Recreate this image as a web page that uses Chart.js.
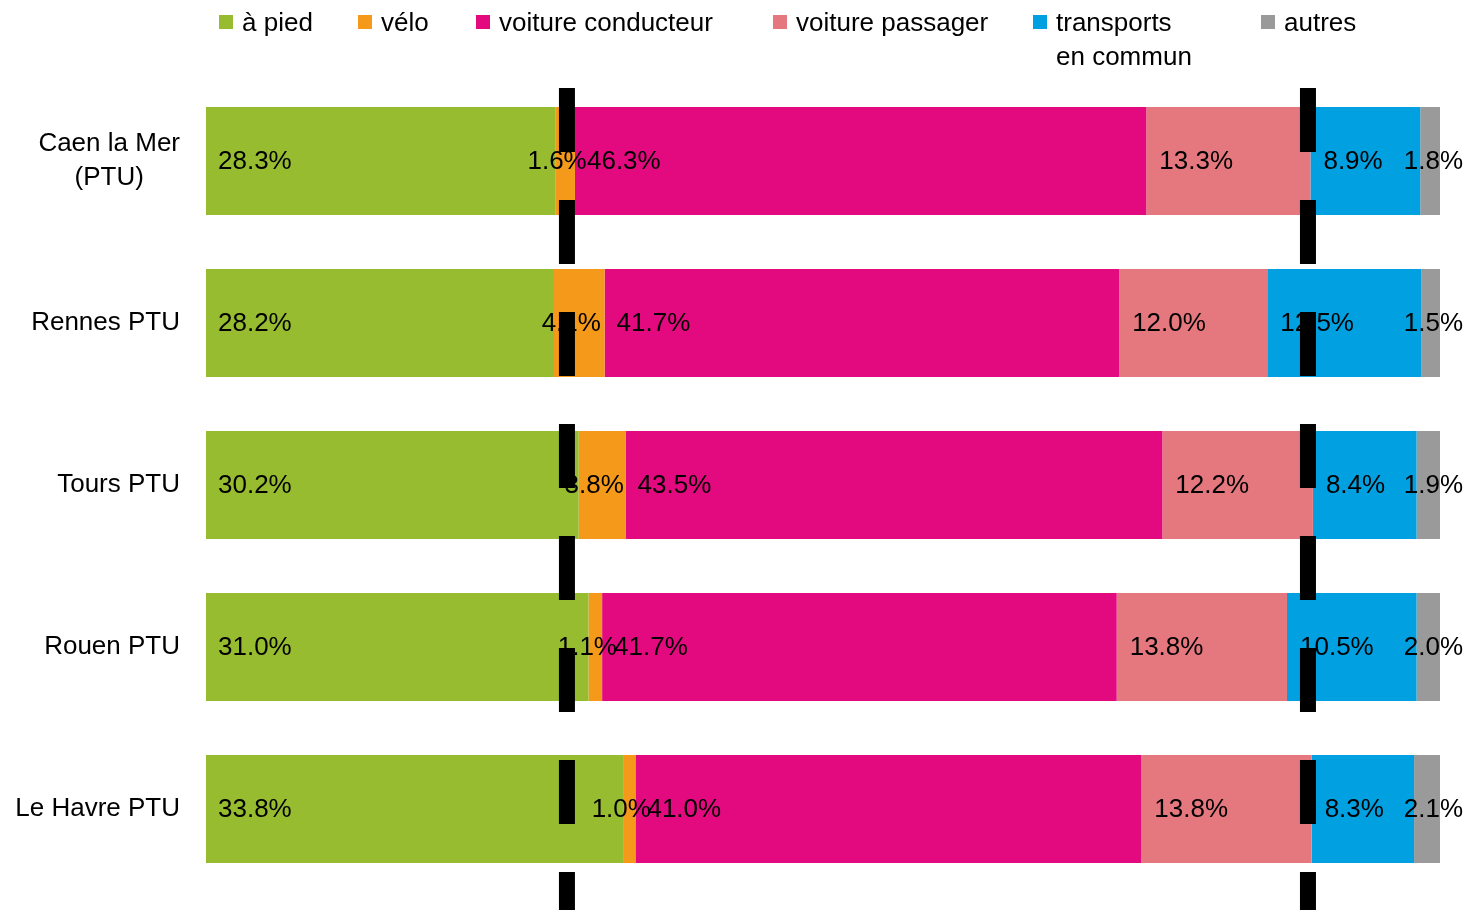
<!DOCTYPE html>
<html lang="fr">
<head>
<meta charset="utf-8">
<script src="https://cdn.jsdelivr.net/npm/chart.js@4.4.1/dist/chart.umd.min.js"></script>
<style>
    html, body { margin: 0; padding: 0; background: #fff; }
    #wrap { position: relative; width: 1470px; height: 910px; }
    #legend {
        position: absolute; top: 5px; left: 0;
        font-family: "Liberation Sans", Arial, sans-serif;
        font-size: 26px; line-height: 34px; color: #000;
    }
    .item { position: absolute; top: 0; display: flex; align-items: flex-start; white-space: nowrap; }
    .sw { width: 14px; height: 14px; margin-top: 10px; margin-right: 9px; flex: none; }
</style>
</head>
<body>
<div id="wrap">
    <canvas id="modes-chart" width="1470" height="910"></canvas>
    <div id="legend"></div>
</div>
<script>
// Données
const categories = [['Caen la Mer', '(PTU)'], 'Rennes PTU', 'Tours PTU', 'Rouen PTU', 'Le Havre PTU'];
const seriesNames = ['à pied', 'vélo', 'voiture conducteur', 'voiture passager', ['transports', 'en commun'], 'autres'];
const aPied = [28.3, 28.2, 30.2, 31.0, 33.8];
const velo = [1.6, 4.1, 3.8, 1.1, 1.0];
const voitureConducteur = [46.3, 41.7, 43.5, 41.7, 41.0];
const voiturePassager = [13.3, 12.0, 12.2, 13.8, 13.8];
const transportsCommun = [8.9, 12.5, 8.4, 10.5, 8.3];
const autres = [1.8, 1.5, 1.9, 2.0, 2.1];
const refLines = [29.25, 89.3];

const colors = ['#98bc2f', '#f4991a', '#e30a7f', '#e5787e', '#00a0e1', '#9a9a9a'];
const legendLeft = [219, 358, 476, 773, 1033, 1261];
const FONT = '"Liberation Sans", Arial, sans-serif';

// Étiquettes de l'axe des catégories (lignes centrées entre elles)
const categoryLabels = {
    id: 'categoryLabels',
    afterDraw(chart) {
        const ctx = chart.ctx;
        const y = chart.scales.y;
        const rightEdge = y.right - 26;
        const lineH = 34;
        ctx.save();
        ctx.font = '26px ' + FONT;
        ctx.fillStyle = '#000';
        ctx.textBaseline = 'middle';
        ctx.textAlign = 'center';
        chart.data.labels.forEach((lbl, i) => {
            const lines = Array.isArray(lbl) ? lbl : [lbl];
            const maxW = Math.max(...lines.map(l => ctx.measureText(l).width));
            const cx = rightEdge - maxW / 2;
            const cy = y.getPixelForValue(i);
            lines.forEach((l, k) => {
                ctx.fillText(l, cx, cy + (k - (lines.length - 1) / 2) * lineH);
            });
        });
        ctx.restore();
    }
};

// Étiquettes des segments
const segmentLabels = {
    id: 'segmentLabels',
    afterDatasetsDraw(chart) {
        const ctx = chart.ctx;
        ctx.save();
        ctx.font = '26px ' + FONT;
        ctx.fillStyle = '#000';
        ctx.textBaseline = 'middle';
        chart.data.datasets.forEach((ds, i) => {
            chart.getDatasetMeta(i).data.forEach((bar, j) => {
                const txt = ds.data[j].toFixed(1) + '%';
                const left = Math.min(bar.base, bar.x);
                const right = Math.max(bar.base, bar.x);
                let x;
                if (ds.labelAnchor === 'start') {
                    ctx.textAlign = 'left';
                    x = left + ds.labelOffset;
                } else if (ds.labelAnchor === 'center') {
                    ctx.textAlign = 'center';
                    x = (left + right) / 2 + ds.labelOffset;
                } else {
                    ctx.textAlign = 'right';
                    x = chart.chartArea.right + ds.labelOffset;
                }
                ctx.fillText(txt, x, bar.y + 1);
            });
        });
        ctx.restore();
    }
};

// Lignes verticales en tirets
const refDashes = {
    id: 'refDashes',
    afterDraw(chart) {
        const { ctx, chartArea, scales: { x } } = chart;
        ctx.save();
        ctx.strokeStyle = '#000';
        ctx.lineWidth = 16;
        ctx.setLineDash([64, 48]);
        refLines.forEach(v => {
            const px = x.getPixelForValue(v);
            ctx.beginPath();
            ctx.moveTo(px, chartArea.top + 8);
            ctx.lineTo(px, chart.height);
            ctx.stroke();
        });
        ctx.restore();
    }
};

const seriesData = [aPied, velo, voitureConducteur, voiturePassager, transportsCommun, autres];
const anchors = ['start', 'center', 'start', 'start', 'start', 'end'];
const offsets = [12, -8, 12, 13, 13, 23];

const chart = new Chart(document.getElementById('modes-chart'), {
    type: 'bar',
    data: {
        labels: categories,
        datasets: seriesData.map((d, i) => ({
            label: Array.isArray(seriesNames[i]) ? seriesNames[i].join(' ') : seriesNames[i],
            data: d,
            backgroundColor: colors[i],
            borderWidth: 0,
            categoryPercentage: 1,
            barPercentage: 0.667,
            labelAnchor: anchors[i],
            labelOffset: offsets[i]
        }))
    },
    options: {
        indexAxis: 'y',
        responsive: false,
        devicePixelRatio: 1,
        animation: false,
        layout: { padding: { top: 80, right: 30, bottom: 20, left: 0 } },
        plugins: {
            legend: { display: false },
            tooltip: { enabled: false }
        },
        scales: {
            x: { stacked: true, min: 0, max: 100, display: false },
            y: {
                stacked: true,
                grid: { display: false, drawTicks: false },
                border: { display: false },
                ticks: { display: false },
                afterFit(scale) { scale.width = 206; }
            }
        }
    },
    plugins: [categoryLabels, segmentLabels, refDashes]
});

// Légende
const legend = document.getElementById('legend');
seriesNames.forEach((name, i) => {
    const item = document.createElement('div');
    item.className = 'item';
    item.style.left = legendLeft[i] + 'px';
    const sw = document.createElement('span');
    sw.className = 'sw';
    sw.style.background = colors[i];
    const txt = document.createElement('span');
    txt.innerHTML = (Array.isArray(name) ? name : [name]).join('<br>');
    item.appendChild(sw);
    item.appendChild(txt);
    legend.appendChild(item);
});
</script>
</body>
</html>
